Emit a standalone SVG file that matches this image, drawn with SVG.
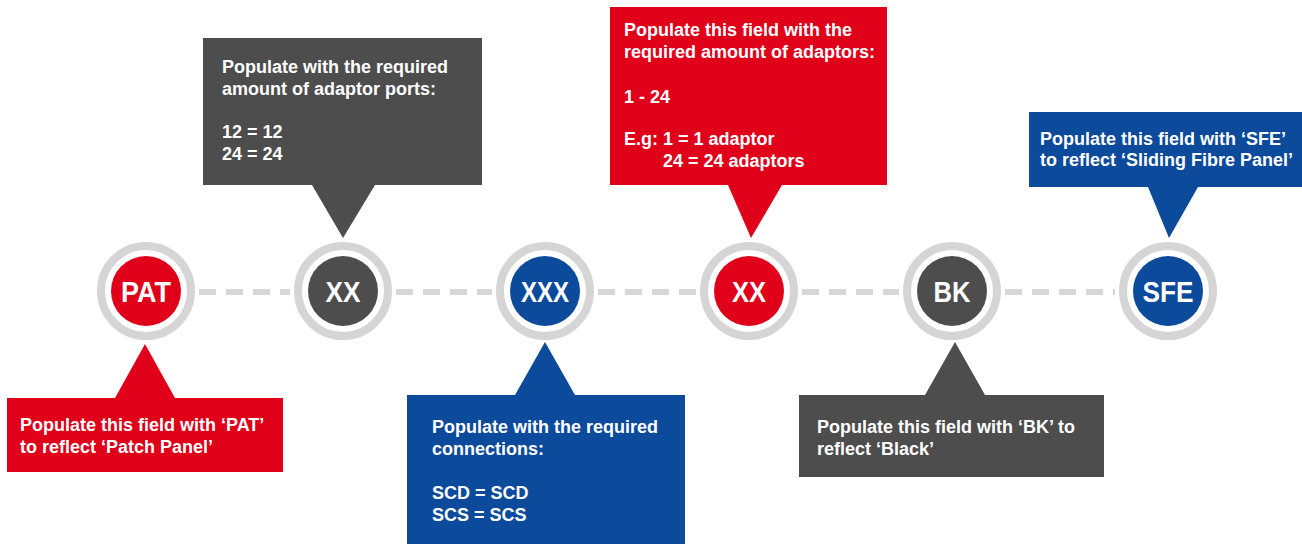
<svg xmlns="http://www.w3.org/2000/svg" width="1302" height="544" viewBox="0 0 1302 544">
<style>
.red{fill:#e1001a}
.gray{fill:#4d4d4d}
.blue{fill:#0c4a9b}
.ring{fill:#ffffff;stroke:#d5d5d5;stroke-width:8}
.lbl{font-family:"Liberation Sans",Arial,sans-serif;font-weight:bold;font-size:30px;fill:#ffffff;text-anchor:middle}
.txt{font-family:"Liberation Sans",Arial,sans-serif;font-weight:bold;font-size:18px;fill:#ffffff}
.dash{stroke:#d7d7d7;stroke-width:6;stroke-dasharray:17 10;fill:none}
</style>
<rect width="1302" height="544" fill="#ffffff"/>
<g id="connectors">
<line class="dash" x1="199" y1="292" x2="290" y2="292"/>
<line class="dash" x1="396" y1="292" x2="492" y2="292"/>
<line class="dash" x1="598" y1="292" x2="696" y2="292"/>
<line class="dash" x1="802" y1="292" x2="899" y2="292"/>
<line class="dash" x1="1005" y1="292" x2="1115" y2="292"/>
</g>
<g id="node-pat">
<circle class="ring" cx="146" cy="291" r="45"/>
<circle class="red" cx="146" cy="291" r="35"/>
<text class="lbl" x="146" y="302" textLength="50" lengthAdjust="spacingAndGlyphs">PAT</text>
</g>
<g id="node-xx1">
<circle class="ring" cx="343" cy="291" r="45"/>
<circle class="gray" cx="343" cy="291" r="35"/>
<text class="lbl" x="343" y="302" textLength="35" lengthAdjust="spacingAndGlyphs">XX</text>
</g>
<g id="node-xxx">
<circle class="ring" cx="545" cy="291" r="45"/>
<circle class="blue" cx="545" cy="291" r="35"/>
<text class="lbl" x="545" y="302" textLength="48" lengthAdjust="spacingAndGlyphs">XXX</text>
</g>
<g id="node-xx2">
<circle class="ring" cx="749" cy="291" r="45"/>
<circle class="red" cx="749" cy="291" r="35"/>
<text class="lbl" x="749" y="302" textLength="34" lengthAdjust="spacingAndGlyphs">XX</text>
</g>
<g id="node-bk">
<circle class="ring" cx="952" cy="291" r="45"/>
<circle class="gray" cx="952" cy="291" r="35"/>
<text class="lbl" x="952" y="302" textLength="37" lengthAdjust="spacingAndGlyphs">BK</text>
</g>
<g id="node-sfe">
<circle class="ring" cx="1168" cy="291" r="45"/>
<circle class="blue" cx="1168" cy="291" r="35"/>
<text class="lbl" x="1168" y="302" textLength="51" lengthAdjust="spacingAndGlyphs">SFE</text>
</g>
<g id="callout-pat">
<path class="red" d="M7,398 H115 L145,344 L175,398 H283 V472 H7 Z"/>
<text class="txt" x="20" y="431">Populate this field with ‘PAT’</text>
<text class="txt" x="20" y="453">to reflect ‘Patch Panel’</text>
</g>
<g id="callout-xx1">
<path class="gray" d="M203,38 H482 V185 H375 L343,238 L312,185 H203 Z"/>
<text class="txt" x="222" y="73">Populate with the required</text>
<text class="txt" x="222" y="95">amount of adaptor ports:</text>
<text class="txt" x="222" y="138">12 = 12</text>
<text class="txt" x="222" y="160">24 = 24</text>
</g>
<g id="callout-xxx">
<path class="blue" d="M407,395 H515 L545,342 L575,395 H685 V544 H407 Z"/>
<text class="txt" x="432" y="433">Populate with the required</text>
<text class="txt" x="432" y="455">connections:</text>
<text class="txt" x="432" y="499">SCD = SCD</text>
<text class="txt" x="432" y="521">SCS = SCS</text>
</g>
<g id="callout-xx2">
<path class="red" d="M610,7 H887 V185 H782 L751,238 L728,185 H610 Z"/>
<text class="txt" x="624" y="36">Populate this field with the</text>
<text class="txt" x="624" y="58">required amount of adaptors:</text>
<text class="txt" x="624" y="103">1 - 24</text>
<text class="txt" x="624" y="145">E.g: 1 = 1 adaptor</text>
<text class="txt" x="663" y="167">24 = 24 adaptors</text>
</g>
<g id="callout-bk">
<path class="gray" d="M799,395 H925 L955,342 L985,395 H1104 V477 H799 Z"/>
<text class="txt" x="817" y="433">Populate this field with ‘BK’ to</text>
<text class="txt" x="817" y="455">reflect ‘Black’</text>
</g>
<g id="callout-sfe">
<path class="blue" d="M1029,112 H1302 V187 H1198 L1169,238 L1148,187 H1029 Z"/>
<text class="txt" x="1040" y="145">Populate this field with ‘SFE’</text>
<text class="txt" x="1040" y="166">to reflect ‘Sliding Fibre Panel’</text>
</g>
</svg>
